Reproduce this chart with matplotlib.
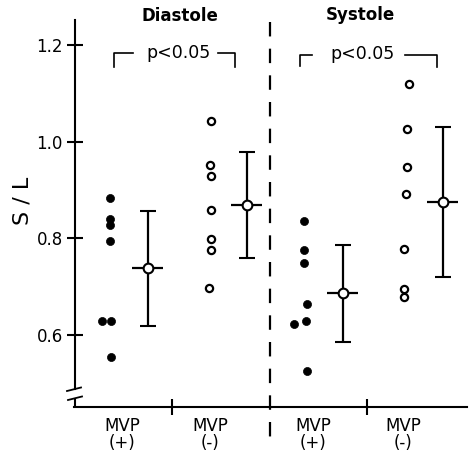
import matplotlib
matplotlib.use("Agg")
import matplotlib.pyplot as plt

# ---------------- data ----------------
groups = ["Diastole MVP(+)", "Diastole MVP(-)", "Systole MVP(+)", "Systole MVP(-)"]
diast_pos = [0.883, 0.839, 0.828, 0.795, 0.628, 0.628, 0.555]
diast_neg = [1.043, 0.951, 0.928, 0.859, 0.799, 0.776, 0.697]
syst_pos = [0.836, 0.775, 0.748, 0.664, 0.630, 0.622, 0.526]
syst_neg = [1.119, 1.026, 0.948, 0.892, 0.777, 0.695, 0.678]
means = [0.738, 0.869, 0.686, 0.875]
sds = [0.119, 0.109, 0.100, 0.155]
group_labels = ["MVP\n(+)", "MVP\n(-)", "MVP\n(+)", "MVP\n(-)"]
phase_titles = ["Diastole", "Systole"]
p_text = ["p<0.05", "p<0.05"]
y_ticks = [0.6, 0.8, 1.0, 1.2]
y_ticklabels = ["0.6", "0.8", "1.0", "1.2"]

# ---------------- layout (pixel-based x axis) ----------------
W, H = 470, 454
AX_L, AX_R, AX_T, AX_B = 75, 467, 20, 407
point_cols = [110, 211, 305, 407]
point_jitter = [[0, 0, 0, 0, -8, 1, 1],
                [0, -1, 0, 0, 0, 0, -2],
                [-1, -1, -1, 2, 1, -11, 2],
                [2, 0, 0, -1, -3, -3, -3]]
mean_x = [148, 247, 343, 443]
label_x = [122, 210, 313, 403]
sep_x = [172, 367]
divider_x = 270

# y scale: 0.6 at px 335, 1.2 at px 45
def yv(py):
    return 0.6 + (335 - py) / 483.3

fig = plt.figure(figsize=(W / 100, H / 100), dpi=100)
ax = fig.add_axes([AX_L / W, 1 - AX_B / H, (AX_R - AX_L) / W, (AX_B - AX_T) / H])
ax.set_xlim(AX_L, AX_R)
ax.set_ylim(yv(AX_B), yv(AX_T))

series = [diast_pos, diast_neg, syst_pos, syst_neg]
for i, vals in enumerate(series):
    xs = [point_cols[i] + j for j in point_jitter[i]]
    if i % 2 == 0:
        ax.plot(xs, vals, 'o', ms=5.8, mfc='black', mec='black', mew=0.5, ls='none', zorder=3)
    else:
        ax.plot(xs, vals, 'o', ms=5.2, mfc='white', mec='black', mew=1.6, ls='none', zorder=3)

for i in range(4):
    ax.errorbar(mean_x[i], means[i], yerr=sds[i], fmt='none', ecolor='black',
                elinewidth=1.6, capsize=6.1, capthick=1.5, zorder=2)
    ax.hlines(means[i], mean_x[i] - 15.5, mean_x[i] + 15.5, colors='black', lw=1.6, zorder=2)
    ax.plot(mean_x[i], means[i], 'o', ms=7, mfc='white', mec='black', mew=1.5, zorder=4)

# spines
for s in ['top', 'right']:
    ax.spines[s].set_visible(False)
ax.spines['left'].set_linewidth(1.5)
ax.spines['bottom'].set_linewidth(1.5)
ax.spines['left'].set_bounds(yv(389), yv(AX_T))
ax.spines['bottom'].set_bounds(AX_L - 1, AX_R)
# axis break
ax.plot([AX_L, AX_L], [yv(398), yv(AX_B)], color='black', lw=1.5, clip_on=False, solid_capstyle='butt')
ax.plot([67, 81], [yv(391), yv(387.5)], color='black', lw=1.3, clip_on=False)
ax.plot([68, 82], [yv(400), yv(396.5)], color='black', lw=1.3, clip_on=False)

# ticks
ax.set_yticks(y_ticks)
ax.set_yticklabels(y_ticklabels)
ax.tick_params(axis='y', direction='inout', length=11.5, width=1.5, pad=3, labelsize=12)
ax.set_xticks(sep_x)
ax.set_xticklabels(['', ''])
ax.tick_params(axis='x', which='major', direction='inout', length=11.5, width=1.5)
ax.set_xticks(label_x, minor=True)
ax.set_xticklabels(group_labels, minor=True, fontsize=12, linespacing=0.95)
ax.tick_params(axis='x', which='minor', length=0, pad=7)

# divider
ln, = ax.plot([divider_x, divider_x], [yv(22), yv(447)], color='black', lw=1.6, clip_on=False)
ln.set_dashes([6.5, 5.5])

# brackets
def bracket(x0, x1, xa, xb, ytop, ybot_l, ybot_r):
    kw = dict(color='black', lw=1.2, clip_on=False)
    ax.plot([x0, x0, xa], [yv(ybot_l), yv(ytop), yv(ytop)], **kw)
    ax.plot([xb, x1, x1], [yv(ytop), yv(ytop), yv(ybot_r)], **kw)

bracket(114, 235, 133, 218, 53, 67, 67)
bracket(300, 437, 312, 405, 55, 66, 67)

def ftext(px, py, s, **kw):
    fig.text(px / W, 1 - py / H, s, ha='center', va='center', **kw)

ftext(180, 16, phase_titles[0], fontsize=12, fontweight='bold')
ftext(360, 15, phase_titles[1], fontsize=12, fontweight='bold')
ftext(179, 53, p_text[0], fontsize=12.5)
ftext(362, 54, p_text[1], fontsize=12.5)
ftext(23, 201, "S / L", fontsize=16, rotation=90)

fig.savefig("out.png", dpi=100)
